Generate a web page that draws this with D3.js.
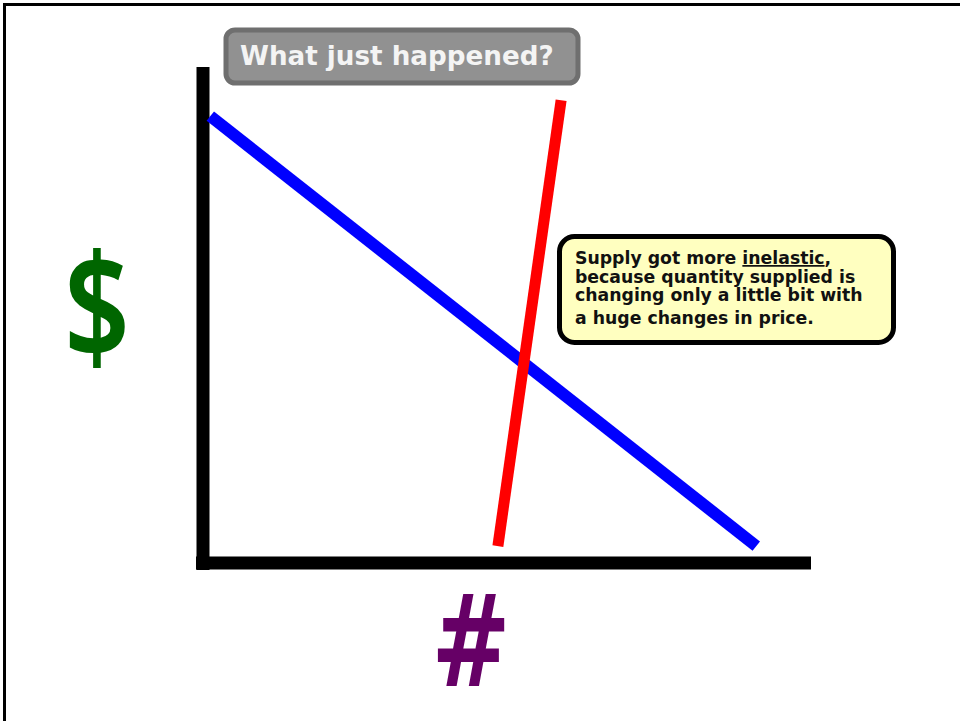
<!DOCTYPE html>
<html>
<head>
<meta charset="utf-8">
<script src="https://cdn.jsdelivr.net/npm/d3@7"></script>
<style>
  html, body { margin: 0; padding: 0; background: #fff; }
  svg { display: block; }
</style>
</head>
<body>
<script>
// curve endpoints, in axis units (0-100 both ways)
const demandX = [1.2, 91.0]
const demandY = [90.1, 3.4]
const supplyX = [58.9, 48.5]
const supplyY = [93.3, 3.4]

const titleText = "What just happened?"
const noteLines = [
    ["Supply got more ", "inelastic", ","],
    ["because quantity supplied is"],
    ["changing only a little bit with"],
    ["a huge changes in price."]
]
const noteBaselines = [264, 283, 301, 324]

var width = 960, height = 721;

var svg = d3.select("body").append("svg")
    .attr("width", width)
    .attr("height", height);

// slide frame
svg.append("rect")
    .attr("x", 4.5).attr("y", 4.5)
    .attr("width", 1000).attr("height", 1000)
    .attr("fill", "none")
    .attr("stroke", "black")
    .attr("stroke-width", 3);

var x = d3.scaleLinear().domain([0, 100]).range([203, 811]);
var y = d3.scaleLinear().domain([0, 100]).range([563, 67]);

var line = d3.line()
    .x(d => x(d[0]))
    .y(d => y(d[1]));

// axes (thick black)
svg.append("line")
    .attr("x1", x(0)).attr("x2", x(0))
    .attr("y1", y(100)).attr("y2", y(0) + 7)
    .attr("stroke", "black").attr("stroke-width", 13);
svg.append("line")
    .attr("x1", x(0) - 7).attr("x2", x(100))
    .attr("y1", y(0)).attr("y2", y(0))
    .attr("stroke", "black").attr("stroke-width", 13);

svg.append("path")
    .datum(d3.zip(demandX, demandY))
    .attr("d", line)
    .attr("fill", "none")
    .attr("stroke", "#0000ff")
    .attr("stroke-width", 12);

svg.append("path")
    .datum(d3.zip(supplyX, supplyY))
    .attr("d", line)
    .attr("fill", "none")
    .attr("stroke", "#ff0000")
    .attr("stroke-width", 11);

// axis labels
svg.append("text")
    .attr("transform", "translate(97,359) scale(0.9,1.14)")
    .attr("text-anchor", "middle")
    .attr("font-family", "'Noto Sans', sans-serif")
    .attr("font-weight", 600)
    .attr("font-size", 128)
    .attr("fill", "#006600")
    .text("$");

svg.append("text")
    .attr("transform", "translate(471,686) scale(0.8,1.08)")
    .attr("text-anchor", "middle")
    .attr("font-family", "'DejaVu Sans', sans-serif")
    .attr("font-weight", "bold")
    .attr("font-size", 118)
    .attr("fill", "#660066")
    .text("#");

// title box
svg.append("rect")
    .attr("x", 226).attr("y", 30)
    .attr("width", 352).attr("height", 53)
    .attr("rx", 9)
    .attr("fill", "#919191")
    .attr("stroke", "#6f6f6f")
    .attr("stroke-width", 5);
svg.append("text")
    .attr("x", 240).attr("y", 65)
    .attr("font-family", "'DejaVu Sans', sans-serif")
    .attr("font-weight", "bold")
    .attr("font-size", 26.2)
    .attr("fill", "#f4f4f4")
    .text(titleText);

// annotation box
svg.append("rect")
    .attr("x", 559.5).attr("y", 236.5)
    .attr("width", 334).attr("height", 106)
    .attr("rx", 15)
    .attr("fill", "#ffffc0")
    .attr("stroke", "black")
    .attr("stroke-width", 5);

var note = svg.append("g")
    .attr("font-family", "'DejaVu Sans', sans-serif")
    .attr("font-weight", "bold")
    .attr("font-size", 17.3)
    .attr("fill", "#111");

noteLines.forEach((parts, i) => {
    var t = note.append("text")
        .attr("x", 575)
        .attr("y", noteBaselines[i]);
    parts.forEach((p, j) => {
        t.append("tspan")
            .attr("text-decoration", (i == 0 && j == 1) ? "underline" : null)
            .text(p);
    });
});
</script>
</body>
</html>
